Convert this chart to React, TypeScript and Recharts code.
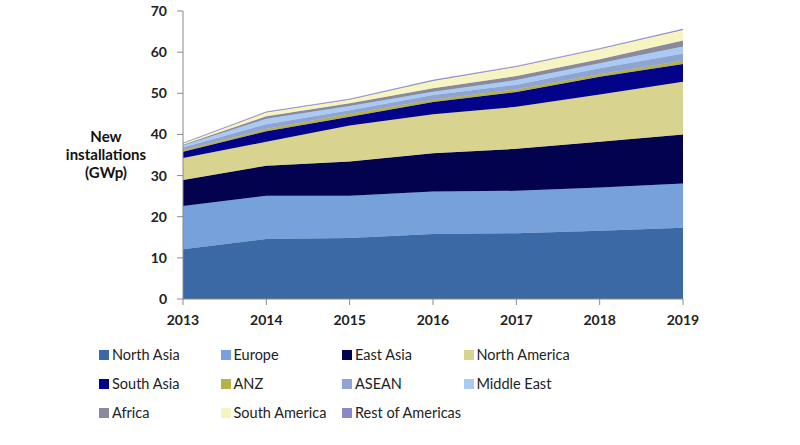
import React from 'react';
import { AreaChart, Area, XAxis, YAxis, Legend } from 'recharts';

const years = ['2013', '2014', '2015', '2016', '2017', '2018', '2019'];

const northAsia = [12.1, 14.6, 14.8, 15.8, 16.0, 16.6, 17.3];
const europe = [10.5, 10.5, 10.3, 10.3, 10.3, 10.5, 10.8];
const eastAsia = [6.3, 7.3, 8.3, 9.3, 10.2, 11.1, 11.9];
const northAmerica = [5.4, 5.8, 8.8, 9.5, 10.2, 11.5, 12.8];
const southAsia = [1.5, 2.6, 2.1, 3.0, 3.6, 4.3, 4.3];
const anz = [0.4, 0.5, 0.7, 0.5, 0.7, 0.6, 0.8];
const asean = [0.6, 1.2, 0.9, 1.2, 1.1, 1.5, 1.8];
const middleEast = [0.5, 1.3, 1.0, 0.8, 1.1, 1.2, 1.7];
const africa = [0.2, 0.6, 0.7, 0.8, 1.0, 1.0, 1.4];
const southAmerica = [0.3, 0.9, 0.8, 1.8, 2.2, 2.4, 2.6];
const restOfAmericas = [0.1, 0.2, 0.2, 0.2, 0.2, 0.2, 0.2];

const yTicks = [0, 10, 20, 30, 40, 50, 60, 70];

const series = [
  { key: 'northAsia', name: 'North Asia', values: northAsia, color: '#3B69A5' },
  { key: 'europe', name: 'Europe', values: europe, color: '#77A1DB' },
  { key: 'eastAsia', name: 'East Asia', values: eastAsia, color: '#02024F' },
  { key: 'northAmerica', name: 'North America', values: northAmerica, color: '#D9D390' },
  { key: 'southAsia', name: 'South Asia', values: southAsia, color: '#03038A' },
  { key: 'anz', name: 'ANZ', values: anz, color: '#B5B24A' },
  { key: 'asean', name: 'ASEAN', values: asean, color: '#8FA4D0' },
  { key: 'middleEast', name: 'Middle East', values: middleEast, color: '#AACAF6' },
  { key: 'africa', name: 'Africa', values: africa, color: '#8A8A9C' },
  { key: 'southAmerica', name: 'South America', values: southAmerica, color: '#F6F4C2' },
  { key: 'restOfAmericas', name: 'Rest of Americas', values: restOfAmericas, color: '#8A88C6' },
];

const data = years.map((year, i) => {
  const row: Record<string, string | number> = { year };
  series.forEach((s) => {
    row[s.key] = s.values[i];
  });
  return row;
});

const FONT = 'Lato, "Open Sans", sans-serif';

const LegendBox = () => (
  <div
    style={{
      position: 'relative',
      width: 800,
      height: 98,
      fontFamily: FONT,
      fontSize: 14.5,
      color: '#222',
    }}
  >
    {series.map((s, i) => {
      const col = i % 4;
      const row = Math.floor(i / 4);
      return (
        <div
          key={s.key}
          style={{
            position: 'absolute',
            left: 99 + col * 121.5,
            top: 11 + row * 29,
            height: 29,
            display: 'flex',
            alignItems: 'center',
            whiteSpace: 'nowrap',
          }}
        >
          <span
            style={{
              display: 'inline-block',
              width: 10,
              height: 10,
              background: s.color,
              marginRight: 3,
            }}
          />
          {s.name}
        </div>
      );
    })}
  </div>
);

const AxisTitle = () => (
  <text
    textAnchor="middle"
    fontFamily={FONT}
    fontWeight="bold"
    fontSize={15}
    fill="#111"
  >
    <tspan x={106} y={142}>New</tspan>
    <tspan x={106} y={160}>installations</tspan>
    <tspan x={106} y={178}>(GWp)</tspan>
  </text>
);

export default function App() {
  return (
    <div style={{ position: 'absolute', left: 0, top: 0 }}>
      <AreaChart
        width={800}
        height={445}
        data={data}
        margin={{ top: 11, right: 117, left: 143, bottom: 18 }}
      >
        <XAxis
          dataKey="year"
          height={30}
          tickSize={6}
          tickMargin={10}
          stroke="#8a8a8a"
          tick={{ fill: '#222', fontFamily: FONT, fontWeight: 'bold', fontSize: 14 }}
        />
        <YAxis
          width={40}
          domain={[0, 70]}
          ticks={yTicks}
          interval={0}
          tickSize={6}
          tickMargin={10}
          stroke="#8a8a8a"
          tick={{ fill: '#222', fontFamily: FONT, fontWeight: 'bold', fontSize: 14 }}
          label={{ content: () => <AxisTitle /> }}
        />
        <Legend
          verticalAlign="bottom"
          wrapperStyle={{ left: 0, width: 800 }}
          content={() => <LegendBox />}
        />
        {series.map((s) => (
          <Area
            key={s.key}
            type="linear"
            dataKey={s.key}
            name={s.name}
            stackId="1"
            stroke={s.color}
            strokeWidth={0.5}
            fill={s.color}
            fillOpacity={1}
            isAnimationActive={false}
          />
        ))}
      </AreaChart>
    </div>
  );
}
